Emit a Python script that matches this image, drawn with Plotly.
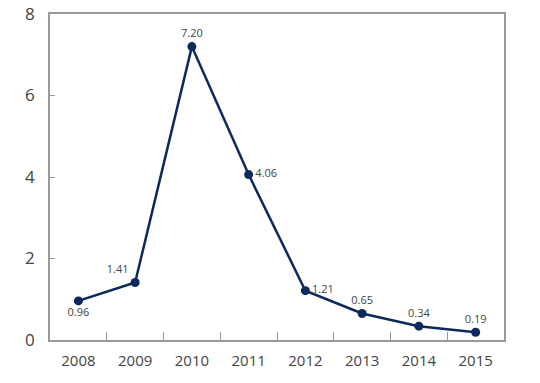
import plotly.graph_objects as go

years = ["2008", "2009", "2010", "2011", "2012", "2013", "2014", "2015"]
values = [0.96, 1.41, 7.20, 4.06, 1.21, 0.65, 0.34, 0.19]
labels = ["0.96", "1.41", "7.20", "4.06", "1.21", "0.65", "0.34", "0.19"]
positions = ["bottom center", "top left", "top center", "middle right",
             "middle right", "top center", "top center", "top center"]

fig = go.Figure(go.Scatter(
    x=years, y=values, mode="lines+markers+text",
    line=dict(color="#0b2a5b", width=2.5),
    marker=dict(color="#0b2a5b", size=9),
    text=labels, textposition=positions,
    textfont=dict(family="Open Sans", size=11, color="#444444"),
    cliponaxis=False,
))

fig.update_layout(
    width=540, height=383,
    margin=dict(l=50, r=36, t=14, b=43, autoexpand=False),
    plot_bgcolor="white", paper_bgcolor="white",
    showlegend=False,
    font=dict(family="Open Sans", color="#444444"),
)
fig.update_xaxes(
    type="category", range=[-0.5, 7.5], automargin=False,
    showline=True, linecolor="#999999", linewidth=1.5, mirror=True,
    ticks="inside", tickson="boundaries", ticklen=8, tickcolor="#999999",
    showgrid=False, tickfont=dict(size=15, color="#444444"),
    ticklabelstandoff=6,
)
fig.update_yaxes(
    range=[0, 8], tickvals=[0, 2, 4, 6, 8], automargin=False,
    showline=True, linecolor="#999999", linewidth=1.5, mirror=True,
    ticks="inside", ticklen=5, tickcolor="#999999",
    showgrid=False, zeroline=False, tickfont=dict(size=17, color="#444444"),
    ticklabelstandoff=10,
)

fig.write_html("out.html", config={"displayModeBar": False},
               post_script="document.body.style.margin='0';document.body.style.padding='0';")
